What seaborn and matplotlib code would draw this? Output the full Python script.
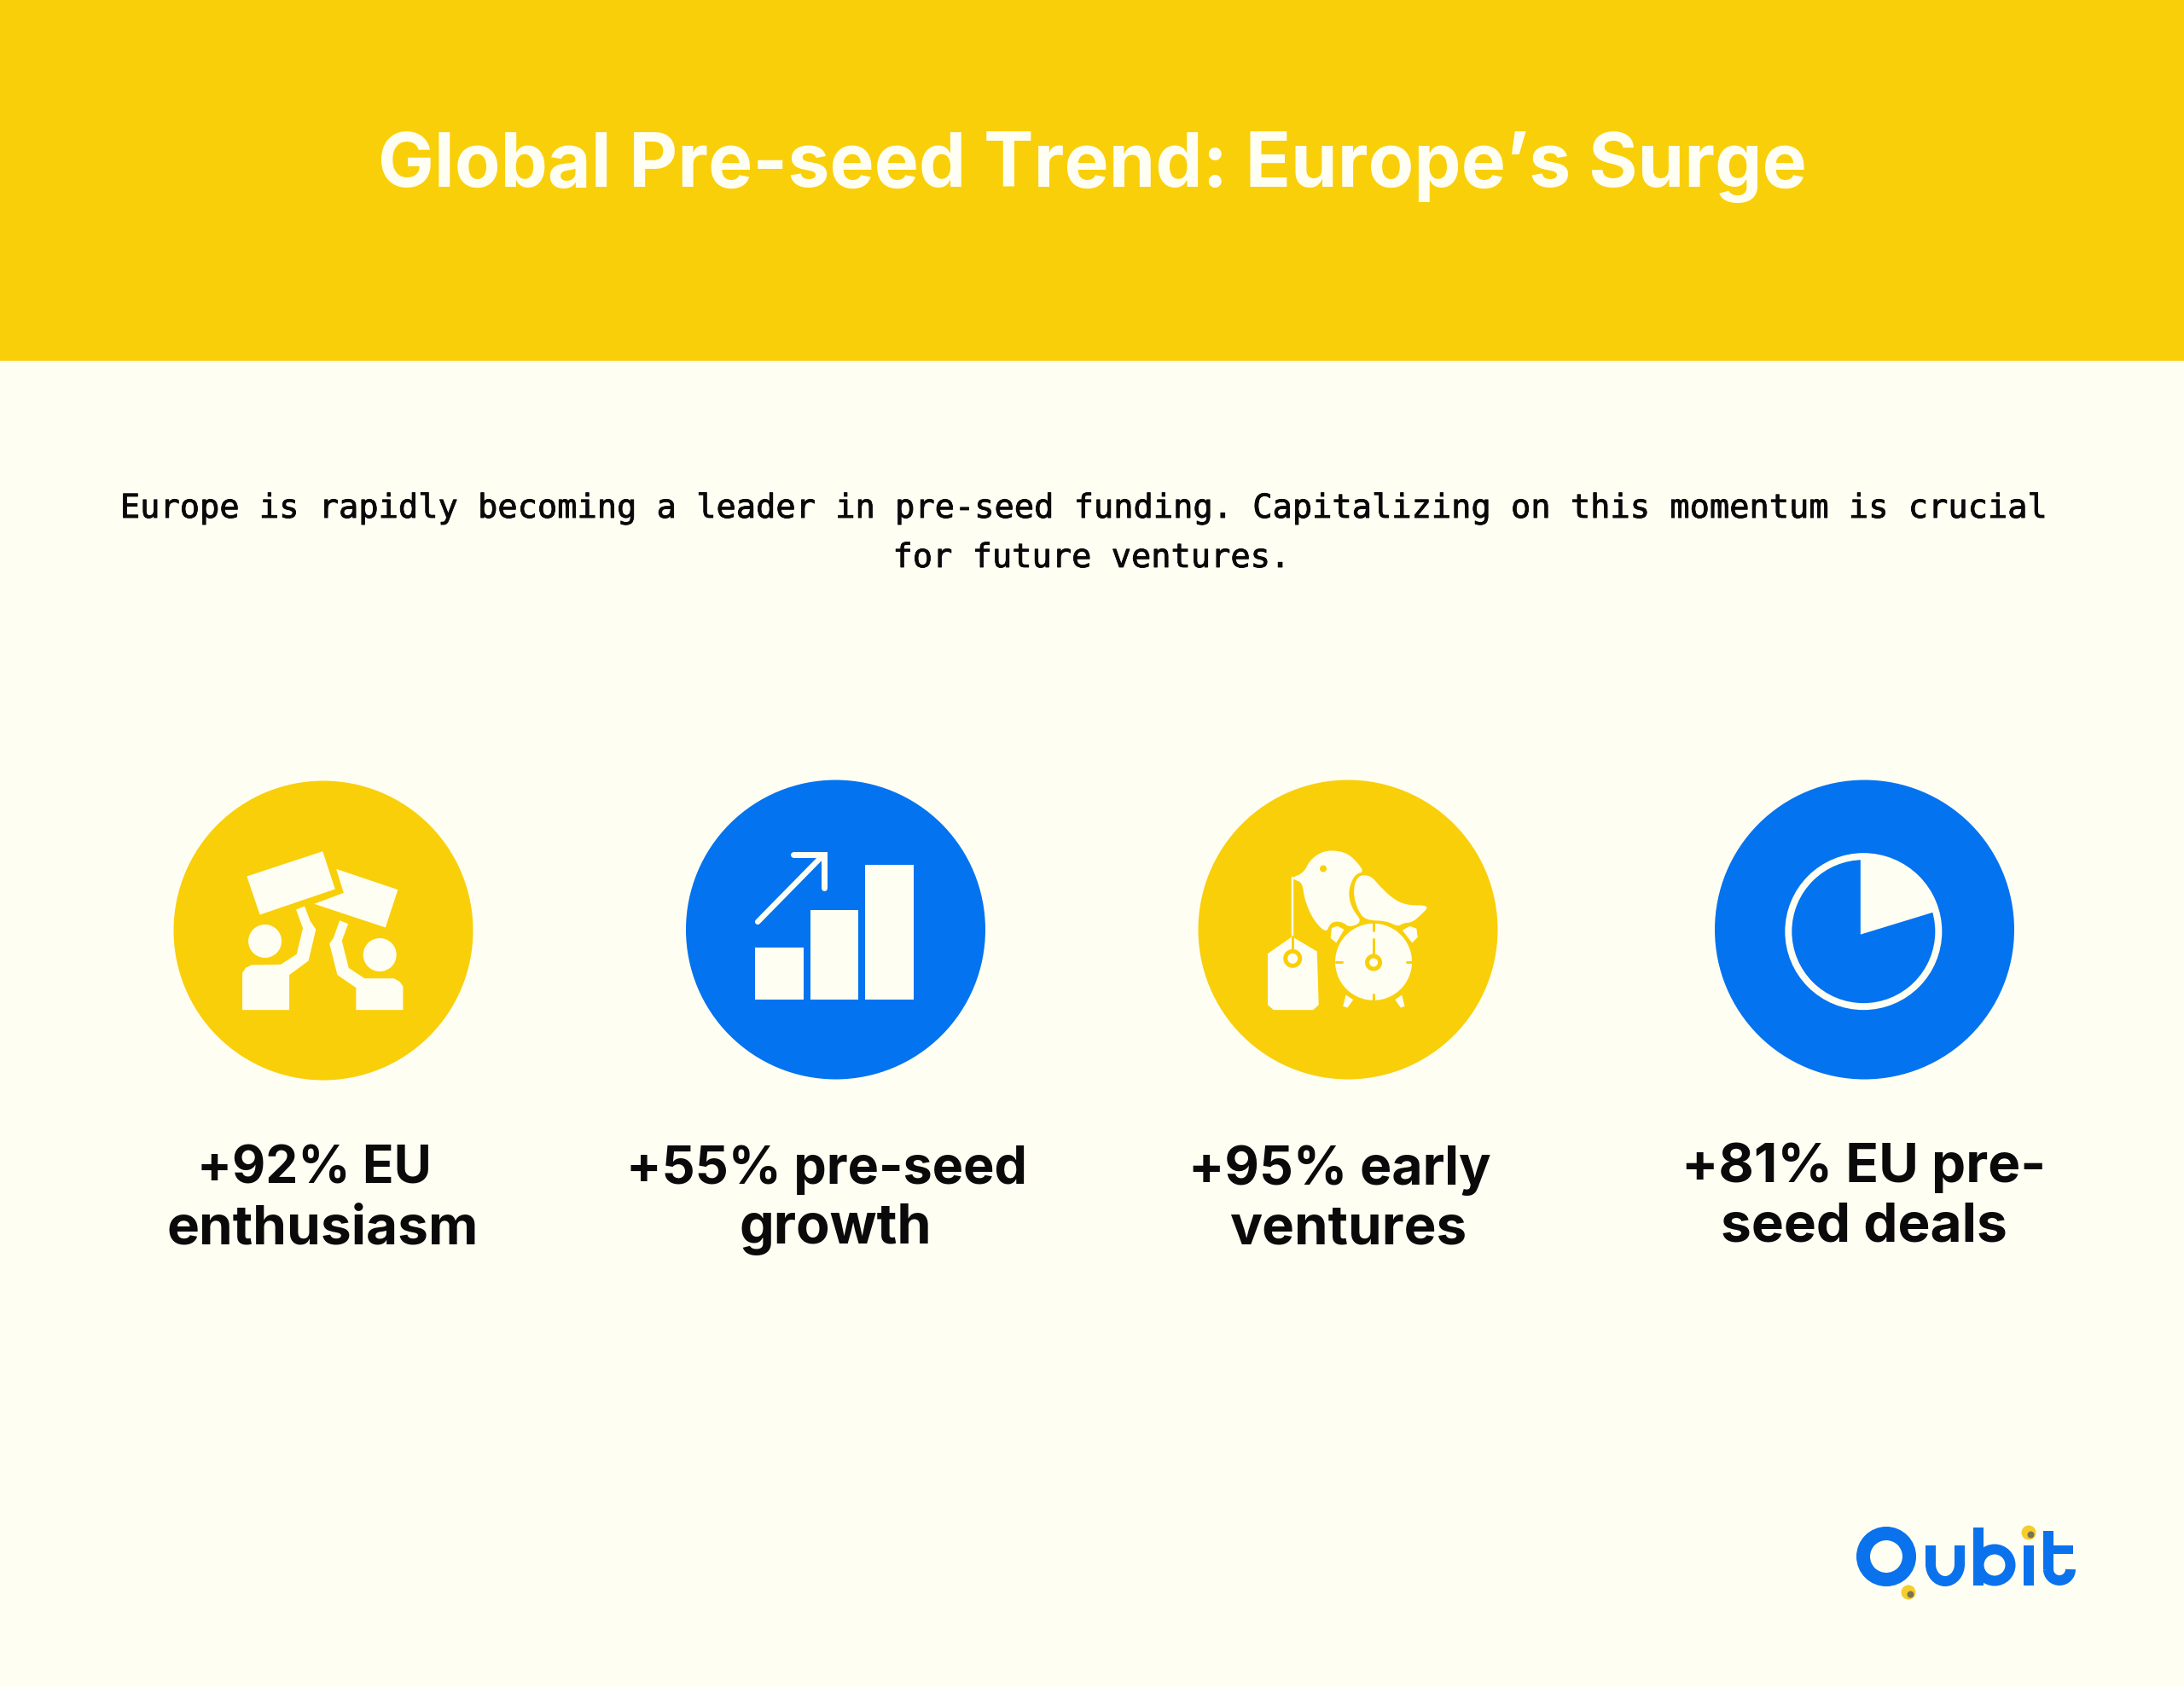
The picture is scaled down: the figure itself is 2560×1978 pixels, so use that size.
import matplotlib
matplotlib.use("Agg")
import matplotlib.pyplot as plt
import matplotlib.patheffects as pe
import seaborn as sns
import pandas as pd
from matplotlib.patches import Arc, Circle, Polygon, Rectangle, Wedge

title = "Global Pre-seed Trend: Europe\u2019s Surge"
intro_lines = [
    "Europe is rapidly becoming a leader in pre-seed funding. Capitalizing on this momentum is crucial",
    "for future ventures.",
]
stat_values = [92, 55, 95, 81]
stat_first_lines = ["+92% EU", "+55% pre-seed", "+95% early", "+81% EU pre-"]
stat_second_lines = ["enthusiasm", "growth", "ventures", "seed deals"]
stat_groups = ["yellow", "blue", "yellow", "blue"]

YELLOW = "#F9CF0A"
BLUE = "#0373F0"
BG = "#FFFEF3"
BLACK = "#0A0A0A"
LOGO_BLUE = "#0A72EC"
PX = 0.72  # one pixel in points at dpi 100

sns.set_theme(style="white")
fig = plt.figure(figsize=(25.6, 19.78), dpi=100, facecolor=BG)
ax = fig.add_axes([0, 0, 1, 1])
ax.set_facecolor(BG)

# layout of the four badges, in pixels
centers_x = [379, 979.5, 1580, 2185.5]
centers_y = [1091, 1090, 1090, 1090]
df = pd.DataFrame({"x": centers_x, "y": centers_y, "group": stat_groups, "value": stat_values})

ax.add_patch(Rectangle((0, 0), 2560, 423, color=YELLOW, lw=0, zorder=0))
sns.scatterplot(data=df, x="x", y="y", hue="group", palette={"yellow": YELLOW, "blue": BLUE},
                s=(351 * PX) ** 2, linewidth=0, legend=False, ax=ax, zorder=1, clip_on=False)
ax.set_xlim(0, 2560)
ax.set_ylim(1978, 0)
ax.axis("off")


def from_zoom(pts, x0):
    return [(x0 + x / 1.508, 891.5 + y / 3) for x, y in pts]


def smooth(pts, rounds=2):
    # corner cutting so the bird outlines do not look faceted
    for _ in range(rounds):
        out = []
        for i, (x, y) in enumerate(pts):
            nx, ny = pts[(i + 1) % len(pts)]
            out.append((0.75 * x + 0.25 * nx, 0.75 * y + 0.25 * ny))
            out.append((0.25 * x + 0.75 * nx, 0.25 * y + 0.75 * ny))
        pts = out
    return pts


def poly(pts, color=BG, z=3):
    ax.add_patch(Polygon(pts, closed=True, fc=color, ec="none", zorder=z))


def seg(pts, lw, color=BG, z=3, cap="round"):
    ax.plot([p[0] for p in pts], [p[1] for p in pts], color=color, lw=lw * PX,
            solid_capstyle=cap, solid_joinstyle="miter", zorder=z)


def disc(x, y, r, color=BG, z=3):
    ax.add_patch(Circle((x, y), r, fc=color, ec="none", zorder=z))


# icon 1: two people holding signs
Z1 = 170
poly(from_zoom([(180, 408), (314, 320), (336, 453), (203, 543)], Z1))
poly(from_zoom([(338, 382), (447, 455), (425, 588), (299, 505), (351, 466)], Z1))
poly(from_zoom([(172, 878), (172, 748), (178, 730), (188, 720), (240, 718), (268, 682), (279, 590),
                (267, 525), (282, 513), (292, 565), (302, 595), (289, 705), (255, 755), (255, 878)], Z1))
poly(from_zoom([(456, 878), (456, 795), (450, 778), (440, 767), (388, 767), (360, 730), (348, 635),
                (359, 575), (344, 563), (333, 625), (326, 645), (340, 755), (373, 800), (373, 878)], Z1))
disc(*from_zoom([(212, 636)], Z1)[0], 19.5)
disc(*from_zoom([(415, 684)], Z1)[0], 19.5)

# icon 2: rising bars with arrow
for left, top, right, bottom in [(1078, 658, 1164, 841), (1176, 526, 1261, 841), (1273, 367, 1359, 841)]:
    poly(from_zoom([(left, top), (right, top), (right, bottom), (left, bottom)], Z1))
seg(from_zoom([(1083, 568), (1193, 345)], Z1), 6.5)
seg(from_zoom([(1146, 331), (1200, 331), (1200, 447)], Z1), 7)

# icon 3: bird, tag and alarm clock
Z2 = 1370
poly(smooth(from_zoom([(218, 412), (238, 396), (250, 350), (270, 322), (290, 316), (315, 326), (333, 358),
                       (345, 392), (330, 400), (320, 440), (318, 480), (325, 525), (342, 568), (320, 588),
                       (308, 570), (295, 566), (285, 575), (278, 608), (255, 560), (240, 490), (236, 430),
                       (222, 420)], Z2)))
poly(smooth(from_zoom([(343, 403), (358, 408), (372, 440), (395, 485), (420, 510), (462, 510), (445, 545),
                       (430, 570), (415, 572), (405, 585), (385, 565), (348, 562), (335, 530), (327, 480),
                       (328, 435), (335, 410)], Z2)))
disc(*from_zoom([(273, 381)], Z2)[0], 4, YELLOW, 4)
seg(from_zoom([(218, 412), (218, 625)], Z2), 2.5)
poly(from_zoom([(175, 680), (218, 620), (262, 672), (265, 860), (255, 878), (185, 878), (175, 860)], Z2))
seg(from_zoom([(219, 620), (219, 665)], Z2), 3, YELLOW, 4)
disc(*from_zoom([(219, 697)], Z2)[0], 11, YELLOW, 4)
disc(*from_zoom([(219, 697)], Z2)[0], 6, BG, 5)
clock = from_zoom([(362, 709)], Z2)[0]
disc(*clock, 45)
seg(from_zoom([(362, 572), (362, 598)], Z2), 3, YELLOW, 4)
seg(from_zoom([(362, 822), (362, 846)], Z2), 3, YELLOW, 4)
seg(from_zoom([(295, 710), (306, 710)], Z2), 3, YELLOW, 4)
seg(from_zoom([(420, 710), (431, 710)], Z2), 3, YELLOW, 4)
seg(from_zoom([(362, 628), (362, 685)], Z2), 3, YELLOW, 4)
disc(*from_zoom([(362, 711)], Z2)[0], 10, YELLOW, 4)
disc(*from_zoom([(362, 711)], Z2)[0], 5, BG, 5)
poly(from_zoom([(288, 590), (298, 583), (310, 595), (296, 642), (286, 625)], Z2))
poly(from_zoom([(413, 598), (426, 583), (438, 592), (440, 622), (430, 642)], Z2))
poly(from_zoom([(313, 825), (326, 842), (316, 870), (308, 865)], Z2))
poly(from_zoom([(412, 825), (417, 865), (410, 870), (400, 842)], Z2))

# icon 4: pie clock
ring_x, ring_y = from_zoom([(1228, 602)], Z2)[0]
ax.add_patch(Circle((ring_x, ring_y), 88, fc="none", ec=BG, lw=8 * PX, zorder=3))
ax.add_patch(Wedge((ring_x - 3.5, ring_y + 3.5), 90, -90, -17, fc=BG, ec="none", zorder=3))

# logo
ax.add_patch(Circle((2211, 1825), 27, fc="none", ec=LOGO_BLUE, lw=16 * PX, zorder=3))
ax.add_patch(Arc((2280, 1834), 34, 40, theta1=0, theta2=180, ec=LOGO_BLUE, lw=12 * PX, zorder=3))
seg([(2263, 1812), (2263, 1836)], 12, LOGO_BLUE, cap="butt")
seg([(2297, 1812), (2297, 1836)], 12, LOGO_BLUE, cap="butt")
seg([(2318.5, 1791), (2318.5, 1859)], 12, LOGO_BLUE, cap="butt")
ax.add_patch(Circle((2338, 1835), 18.5, fc="none", ec=LOGO_BLUE, lw=12 * PX, zorder=3))
seg([(2378, 1812), (2378, 1859)], 12, LOGO_BLUE, cap="butt")
seg([(2401, 1795), (2401, 1840)], 12, LOGO_BLUE, cap="butt")
seg([(2395, 1817), (2430, 1817)], 10, LOGO_BLUE, cap="butt")
ax.add_patch(Arc((2414, 1840), 26, 26, theta1=0, theta2=180, ec=LOGO_BLUE, lw=12 * PX, zorder=3))
for x, y in [(2378, 1797), (2237, 1867)]:
    disc(x, y, 8.5, "#F4CE2C", 4)
    disc(x + 2.5, y + 2.5, 4, "#7D7350", 5)

# text
ax.text(1280, 196, title, color=BG, fontsize=63.2, fontweight="bold", family="Inter",
        ha="center", va="center")
thicker = [pe.withStroke(linewidth=0.6, foreground=BLACK)]
ax.text(1268.5, 596, intro_lines[0], color=BLACK, fontsize=27.85, family="DejaVu Sans Mono",
        ha="center", va="center", path_effects=thicker)
ax.text(1279, 654, intro_lines[1], color=BLACK, fontsize=27.85, family="DejaVu Sans Mono",
        ha="center", va="center", path_effects=thicker)

first_x = [368.5, 968.5, 1570, 2185]
second_x = [378.5, 979, 1580, 2185]
first_size = [43.5, 44, 45, 46]
second_size = [46, 46.6, 45.8, 46]
line_y = [(1372, 1442), (1372, 1442), (1372, 1442), (1369, 1439)]
for i in range(4):
    ax.text(first_x[i], line_y[i][0], stat_first_lines[i], color=BLACK, fontsize=first_size[i],
            fontweight="bold", family="Inter", ha="center", va="center")
    ax.text(second_x[i], line_y[i][1], stat_second_lines[i], color=BLACK, fontsize=second_size[i],
            fontweight="bold", family="Inter", ha="center", va="center")

fig.savefig("out.png", dpi=100, facecolor=BG)
